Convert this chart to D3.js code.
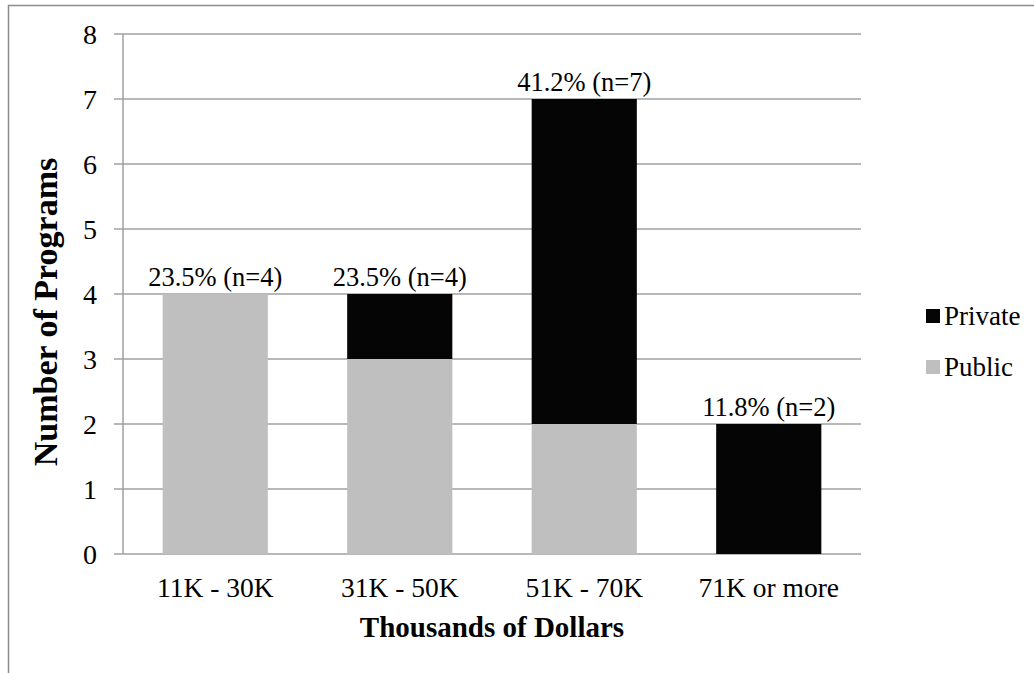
<!DOCTYPE html>
<html>
<head>
<meta charset="utf-8">
<script src="https://cdn.jsdelivr.net/npm/d3@7"></script>
<style>
  body { margin: 0; background: #fff; }
  text { font-family: "Liberation Serif", "Times New Roman", serif; fill: #000; }
</style>
</head>
<body>
<svg id="chart" width="1034" height="673"></svg>
<script>
// Chart data
const categories = ["11K - 30K", "31K - 50K", "51K - 70K", "71K or more"];
const publicCounts = [4, 3, 2, 0];
const privateCounts = [0, 1, 5, 2];
const seriesNames = ["Private", "Public"];
const yTicks = [0, 1, 2, 3, 4, 5, 6, 7, 8];

const colors = { Public: "#bfbfbf", Private: "#050505" };

const svg = d3.select("#chart");

// Outer chart border (only left and top edges are visible)
svg.append("rect")
    .attr("x", 8.5).attr("y", 5.5)
    .attr("width", 1200).attr("height", 900)
    .attr("fill", "#fff")
    .attr("stroke", "#8c8c8c")
    .attr("stroke-width", 1.5);

const plot = { left: 123, right: 861, top: 34, bottom: 554 };

const x = d3.scaleBand()
    .domain(categories)
    .range([plot.left, plot.right])
    .paddingInner(0.43)
    .paddingOuter(0.215);

const y = d3.scaleLinear()
    .domain([0, 8])
    .range([plot.bottom, plot.top]);

const rows = categories.map((c, i) => ({ cat: c, Public: publicCounts[i], Private: privateCounts[i] }));
const total = d3.sum(rows, d => d.Public + d.Private);
const stack = d3.stack().keys(["Public", "Private"])(rows);

// Gridlines
svg.append("g")
    .selectAll("line")
    .data(yTicks)
    .join("line")
    .attr("x1", plot.left - 9)
    .attr("x2", plot.right)
    .attr("y1", d => y(d))
    .attr("y2", d => y(d))
    .attr("stroke", "#a0a0a0")
    .attr("stroke-width", 1.5);

// Y axis line
svg.append("line")
    .attr("x1", plot.left).attr("x2", plot.left)
    .attr("y1", plot.top).attr("y2", plot.bottom)
    .attr("stroke", "#a0a0a0")
    .attr("stroke-width", 1.5);

// Y tick labels
svg.append("g")
    .selectAll("text")
    .data(yTicks)
    .join("text")
    .attr("x", 97)
    .attr("y", d => y(d))
    .attr("dy", "0.35em")
    .attr("text-anchor", "end")
    .style("font-size", "28px")
    .text(d => d);

// Bars
stack.forEach(layer => {
    svg.append("g")
        .selectAll("rect")
        .data(layer.filter(d => d[1] > d[0]))
        .join("rect")
        .attr("x", d => x(d.data.cat))
        .attr("width", x.bandwidth())
        .attr("y", d => y(d[1]))
        .attr("height", d => y(d[0]) - y(d[1]))
        .attr("fill", colors[layer.key]);
});

// Percentage labels above stacks
const fmt = d3.format(".1f");
svg.append("g")
    .selectAll("text")
    .data(rows)
    .join("text")
    .attr("x", d => x(d.cat) + x.bandwidth() / 2)
    .attr("y", d => y(d.Public + d.Private) - 8)
    .attr("text-anchor", "middle")
    .style("font-size", "26.5px")
    .text(d => {
        const n = d.Public + d.Private;
        return `${fmt(n / total * 100)}% (n=${n})`;
    });

// Category labels
svg.append("g")
    .selectAll("text")
    .data(categories)
    .join("text")
    .attr("x", d => x(d) + x.bandwidth() / 2)
    .attr("y", 597)
    .attr("text-anchor", "middle")
    .style("font-size", "27.5px")
    .text(d => d);

// Axis titles
svg.append("text")
    .attr("x", (plot.left + plot.right) / 2)
    .attr("y", 637)
    .attr("text-anchor", "middle")
    .style("font-size", "29px")
    .style("font-weight", "bold")
    .text("Thousands of Dollars");

svg.append("text")
    .attr("transform", "translate(57,312) rotate(-90)")
    .attr("text-anchor", "middle")
    .style("font-size", "34px")
    .style("font-weight", "bold")
    .text("Number of Programs");

// Legend
const legend = svg.append("g")
    .selectAll("g")
    .data(seriesNames)
    .join("g")
    .attr("transform", (d, i) => `translate(926, ${316 + i * 51})`);

legend.append("rect")
    .attr("x", 0).attr("y", -7)
    .attr("width", 14).attr("height", 14)
    .attr("fill", d => colors[d]);

legend.append("text")
    .attr("x", 18)
    .attr("y", 0)
    .attr("dy", "0.33em")
    .style("font-size", "27px")
    .text(d => d);
</script>
</body>
</html>
